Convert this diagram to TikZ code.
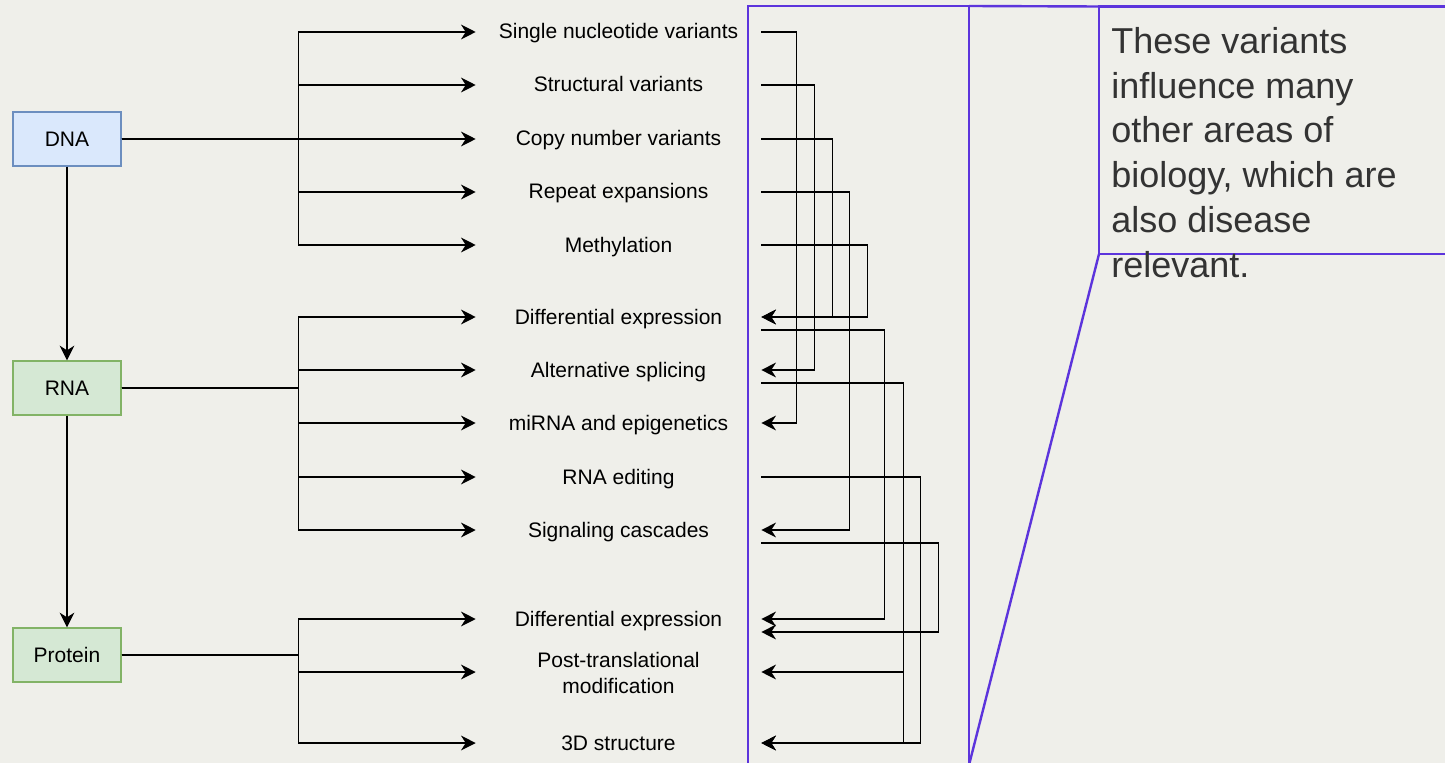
\documentclass[tikz,border=0pt]{standalone}
\usepackage{fontspec}
\setmainfont{Liberation Sans}
\usetikzlibrary{arrows.meta,calc}
\definecolor{bgc}{RGB}{239,239,234}
\definecolor{dnafill}{HTML}{DAE8FC}
\definecolor{dnadraw}{HTML}{6C8EBF}
\definecolor{rnafill}{HTML}{D5E8D4}
\definecolor{rnadraw}{HTML}{82B366}
\definecolor{purp}{RGB}{92,52,220}
\definecolor{calltext}{HTML}{333333}
\begin{document}
\begin{tikzpicture}[x=0.75pt,y=-0.75pt,
  conn/.style={line width=1.15pt,draw=black},
  arr/.style={conn,-{Stealth[length=11pt,width=11pt,inset=3.5pt]}},
  labbase/.style={font=\fontsize{15.75pt}{19.5pt}\selectfont,align=center,minimum width=213.75pt,inner sep=0pt,text=black},
  lab/.style={labbase,text height=13.5pt,text depth=3pt},
  molbox/.style={draw,line width=1pt,minimum width=81pt,minimum height=40.5pt,inner sep=0pt,font=\fontsize{15.75pt}{18.5pt}\selectfont},
  hl/.style={draw=purp,line width=1.8pt}]
\fill[bgc] (0,0) rectangle (1445,763);
\useasboundingbox (0,0) rectangle (1445,763);
\clip (0,0) rectangle (1445,763);

% molecule boxes
\node[molbox,fill=dnafill,draw=dnadraw] (dna) at (67,139) {DNA};
\node[molbox,fill=rnafill,draw=rnadraw] (rna) at (67,388) {RNA};
\node[molbox,fill=rnafill,draw=rnadraw] (prot) at (67,655) {Protein};

% labels
\node[lab] (l1) at (618.5,32) {Single nucleotide variants};
\node[lab] (l2) at (618.5,85) {Structural variants};
\node[lab] (l3) at (618.5,139) {Copy number variants};
\node[lab] (l4) at (618.5,192) {Repeat expansions};
\node[lab] (l5) at (618.5,245) {Methylation};
\node[lab] (l6) at (618.5,317) {Differential expression};
\node[lab] (l7) at (618.5,370) {Alternative splicing};
\node[lab] (l8) at (618.5,423) {miRNA and epigenetics};
\node[lab] (l9) at (618.5,477) {RNA editing};
\node[lab] (l10) at (618.5,530) {Signaling cascades};
\node[lab] (l11) at (618.5,619) {Differential expression};
\node[labbase] (l12) at (618.5,673) {Post-translational\\modification};
\node[lab] (l13) at (618.5,743) {3D structure};

% vertical flow
\draw[arr] (dna.south) -- (rna.north);
\draw[arr] (rna.south) -- (prot.north);

% branches
\foreach \t in {l1,l2,l3,l4,l5} \draw[arr] (dna.east) -- ++(177,0) |- (\t.west);
\foreach \t in {l6,l7,l8,l9,l10} \draw[arr] (rna.east) -- ++(177,0) |- (\t.west);
\foreach \t in {l11,l13} \draw[arr] (prot.east) -- ++(177,0) |- (\t.west);
\draw[arr] (prot.east) -- ++(177,0) |- (l12.west |- 0,672);

% cross connections
\coordinate (s6) at ($(l6.east)+(0,13)$);
\coordinate (s7) at ($(l7.east)+(0,13)$);
\coordinate (s10) at ($(l10.east)+(0,13)$);
\coordinate (e11) at ($(l11.east)+(0,13)$);
\draw[arr] (l1.east) -- ++(35,0) |- (l8.east);
\draw[arr] (l2.east) -- ++(53,0) |- (l7.east);
\draw[arr] (l3.east) -- ++(71,0) |- (l6.east);
\draw[arr] (l4.east) -- ++(88,0) |- (l10.east);
\draw[arr] (l5.east) -- ++(106,0) |- (l6.east);
\draw[arr] (s6) -- ++(123,0) |- (l11.east);
\draw[arr] (s7) -- ++(142,0) |- (l13.east);
\draw[arr] (s7) ++(142,0) |- (l12.east |- 0,672);
\draw[arr] (l9.east) -- ++(159,0) |- (l13.east);
\draw[arr] (s10) -- ++(177,0) |- (e11);

% highlight and callout
\draw[hl] (748,6) rectangle (969,775);
\coordinate (ctl) at (1099,6.5);
\coordinate (cbl) at (1099,254);
\coordinate (cp) at (969,765);
\draw[hl] (969,6) -- (ctl);
\draw[hl] (ctl) rectangle (1460,254);
\draw[hl] (cbl) -- (cp);
\node[anchor=north west,inner sep=0pt,align=left,text=calltext,
  font=\fontsize{27pt}{33.6pt}\selectfont] (ct) at (1111,27)
  {These variants\\influence many\\other areas of\\biology, which are\\also disease\\relevant.};
\end{tikzpicture}
\end{document}
